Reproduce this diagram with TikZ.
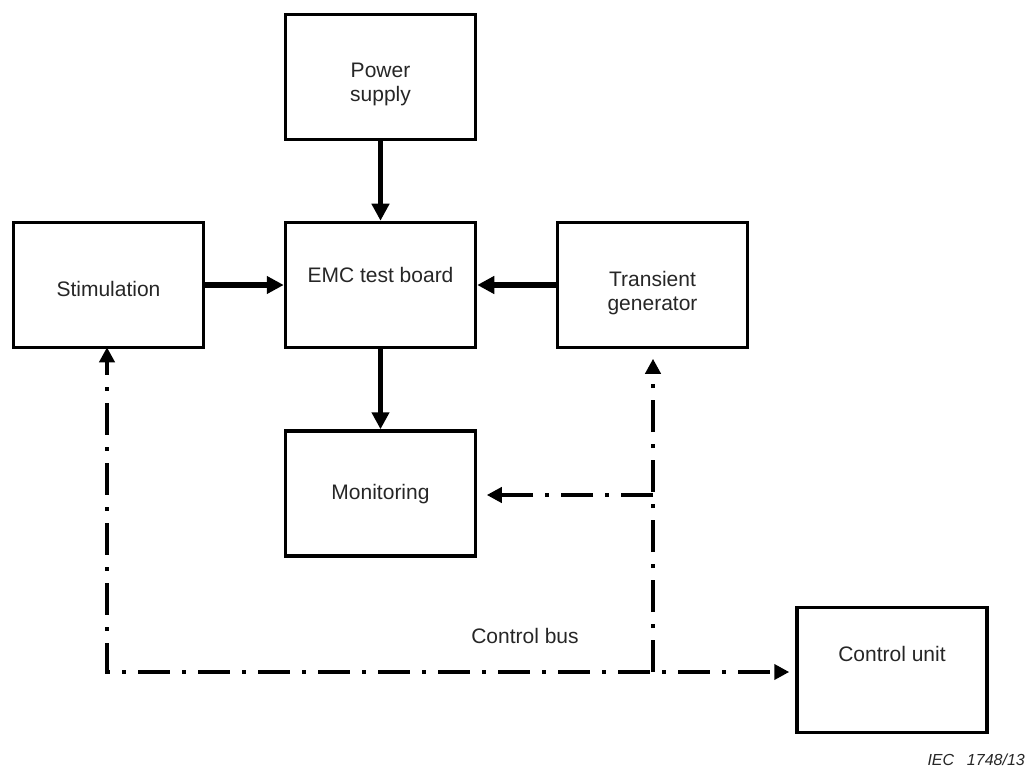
\documentclass[tikz,border=0pt]{standalone}
\usepackage{fontspec}
\setmainfont{Liberation Sans}
\usetikzlibrary{arrows.meta}
\begin{document}
\begin{tikzpicture}[x=1pt,y=-1pt,
  box/.style={draw,line width=3.5pt,minimum width=190pt,minimum height=125pt,inner sep=0pt},
  lbl/.style={font=\fontsize{21}{24}\selectfont,align=center,inner sep=0pt,text=black!85},
  flow/.style={line width=5.5pt,-{Triangle[length=17pt,width=17pt]}},
  bus/.style={line width=4pt,dash pattern=on 32pt off 12pt on 4pt off 12pt},
  bustip/.style={-{Triangle[length=15pt,width=15pt]}}]
\useasboundingbox (0,0) rectangle (1027,767);
% boxes
\node[box] (ps) at (380.5,77) {};
\node[box] (emc) at (380.5,285) {};
\node[box] (st) at (108.5,285) {};
\node[box] (tg) at (652.5,285) {};
\node[box] (mon) at (380.5,493.5) {};
\node[box] (cu) at (892,670) {};
% labels
\node[lbl] (psl) at (380.5,84) {Power\\supply};
\node[lbl,anchor=base] (emcl) at (380.5,282) {EMC test board};
\node[lbl,anchor=base] (stl) at (108.5,296) {Stimulation};
\node[lbl] (tgl) at (652.5,293) {Transient\\generator};
\node[lbl,anchor=base] (monl) at (380.5,499) {Monitoring};
\node[lbl,anchor=base] (cul) at (892,661) {Control unit};
\node[lbl,anchor=base] (cbl) at (525,643) {Control bus};
\node[font=\fontsize{16}{18}\selectfont\itshape,text=black!85,anchor=base east,inner sep=0pt] (iec) at (1025,765) {IEC\hspace{0.8em}1748/13};
% solid connectors
\draw[flow] (ps) -- (emc);
\draw[flow] (st) -- (emc);
\draw[flow] (tg) -- (emc);
\draw[flow] (emc) -- (mon);
% control bus
\coordinate (bl) at (107,672);
\coordinate (bj) at (653,672);
\coordinate (br) at (653,495);
\draw[bus,dash phase=18pt,{Triangle[length=15pt,width=15pt]}-{Triangle[length=15pt,width=15pt]},shorten <=-2pt,shorten >=6pt]
  (bl |- st.south) -- (bl) -- (bl -| cu.west);
\draw[bus,bustip,shorten >=9.5pt] (bj) -- (bj |- tg.south);
\draw[bus,bustip,shorten >=9.5pt] (br) -- (br -| mon.east);
\end{tikzpicture}
\end{document}
